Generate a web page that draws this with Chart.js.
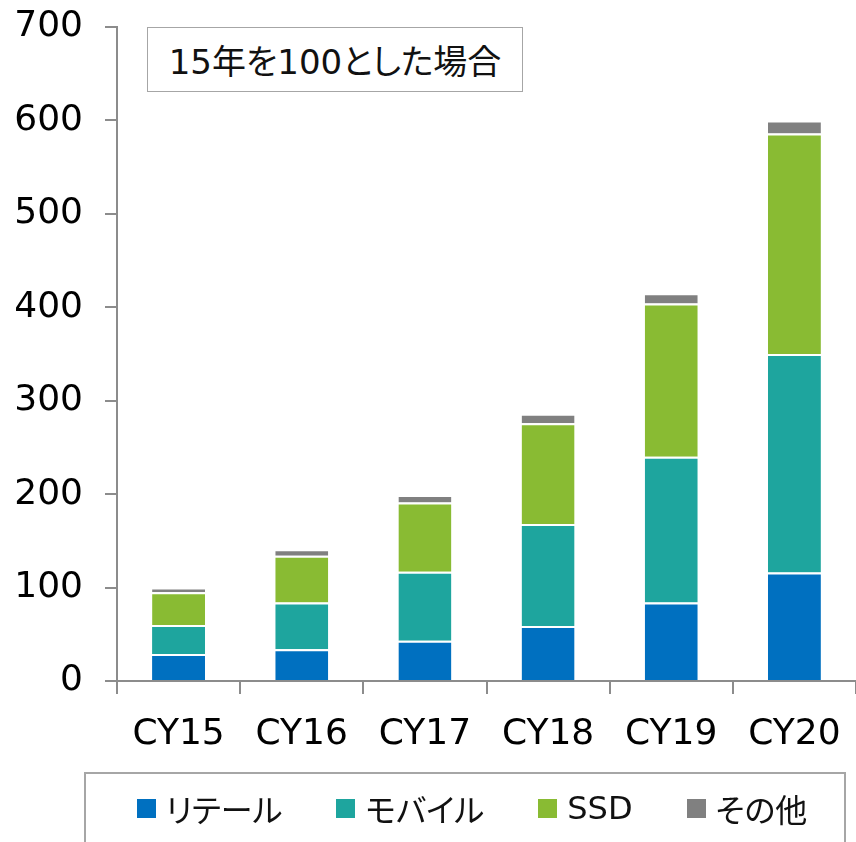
<!DOCTYPE html>
<html>
<head>
<meta charset="utf-8">
<script src="https://cdn.jsdelivr.net/npm/chart.js@4"></script>
<style>
  html, body { margin: 0; padding: 0; background: #fff; }
  #wrap { position: relative; width: 856px; height: 842px; overflow: hidden; }
  #chart { position: absolute; left: 0; top: 0; }
  .note {
    position: absolute; left: 147px; top: 27px; width: 374px; height: 63px;
    border: 1.5px solid #a6a6a6; background: #fff;
    font: 34px "DejaVu Sans", "Noto Sans CJK JP", sans-serif; color: #111;
    display: flex; align-items: center; justify-content: center;
    font-feature-settings: "palt";
  }
  .legend {
    position: absolute; left: 84px; top: 772px; width: 762px; height: 90px;
    border: 2px solid #a6a6a6; box-sizing: border-box;
    display: flex; justify-content: center; padding-left: 14px; padding-top: 13px;
    font: 32px "DejaVu Sans", "Noto Sans CJK JP", sans-serif; color: #111;
    font-feature-settings: "palt";
  }
  .legend .item { display: flex; align-items: center; margin: 0 27px; height: 42px; }
  .legend .box { width: 19px; height: 19px; margin-right: 10px; }
</style>
</head>
<body>
<div id="wrap">
  <canvas id="chart" width="856" height="842"></canvas>
  <div class="note">15年を100とした場合</div>
  <div class="legend" id="legend"></div>
</div>
<script>
// 年ごとの値(15年=100)
const categories = ['CY15', 'CY16', 'CY17', 'CY18', 'CY19', 'CY20'];
const retail = [29, 34, 43, 59, 84, 116];
const mobile = [31, 50, 74, 109, 156, 234];
const ssd = [35, 50, 74, 108, 164, 236];
const other = [5, 7, 8, 10, 11, 14];
const yTicks = [0, 100, 200, 300, 400, 500, 600, 700];

const seriesNames = ['リテール', 'モバイル', 'SSD', 'その他'];
const seriesColors = ['#0070c0', '#1ea59e', '#89bb33', '#808080'];

const axisColor = '#8c8c8c';
const fontFamily = '"DejaVu Sans", "Noto Sans CJK JP", sans-serif';

const datasets = [retail, mobile, ssd, other].map((vals, i) => ({
    label: seriesNames[i],
    data: vals,
    backgroundColor: seriesColors[i],
    borderColor: '#ffffff',
    borderWidth: { top: 2, right: 0, bottom: 0, left: 0 },
    borderSkipped: false,
    categoryPercentage: 1,
    barPercentage: 0.43
}));

const ctx = document.getElementById('chart').getContext('2d');
const chart = new Chart(ctx, {
    type: 'bar',
    data: { labels: categories, datasets: datasets },
    options: {
        responsive: false,
        animation: false,
        layout: { padding: { top: 27, left: 0, right: 0, bottom: 0 } },
        plugins: { legend: { display: false }, tooltip: { enabled: false } },
        scales: {
            x: {
                stacked: true,
                grid: { drawOnChartArea: false, drawTicks: true, tickLength: 13, color: axisColor, lineWidth: 2, offset: true },
                border: { color: axisColor, width: 2 },
                ticks: { color: '#000', font: { family: fontFamily, size: 36 }, padding: 19, maxRotation: 0 },
                afterFit: s => { s.height = 161; s.paddingRight = 0; s.paddingLeft = 0; }
            },
            y: {
                stacked: true,
                min: 0,
                max: 700,
                afterBuildTicks: s => { s.ticks = yTicks.map(v => ({ value: v })); },
                grid: { drawOnChartArea: false, drawTicks: true, tickLength: 12, color: axisColor, lineWidth: 2 },
                border: { color: axisColor, width: 2 },
                ticks: { color: '#000', font: { family: fontFamily, size: 36 }, padding: 22 },
                afterFit: s => { s.width = 117; s.paddingTop = 0; s.paddingBottom = 0; }
            }
        }
    }
});

// 凡例(HTML)
const legend = document.getElementById('legend');
chart.data.datasets.forEach(ds => {
    const item = document.createElement('div');
    item.className = 'item';
    const box = document.createElement('span');
    box.className = 'box';
    box.style.background = ds.backgroundColor;
    const txt = document.createElement('span');
    txt.textContent = ds.label;
    item.appendChild(box);
    item.appendChild(txt);
    legend.appendChild(item);
});
</script>
</body>
</html>
